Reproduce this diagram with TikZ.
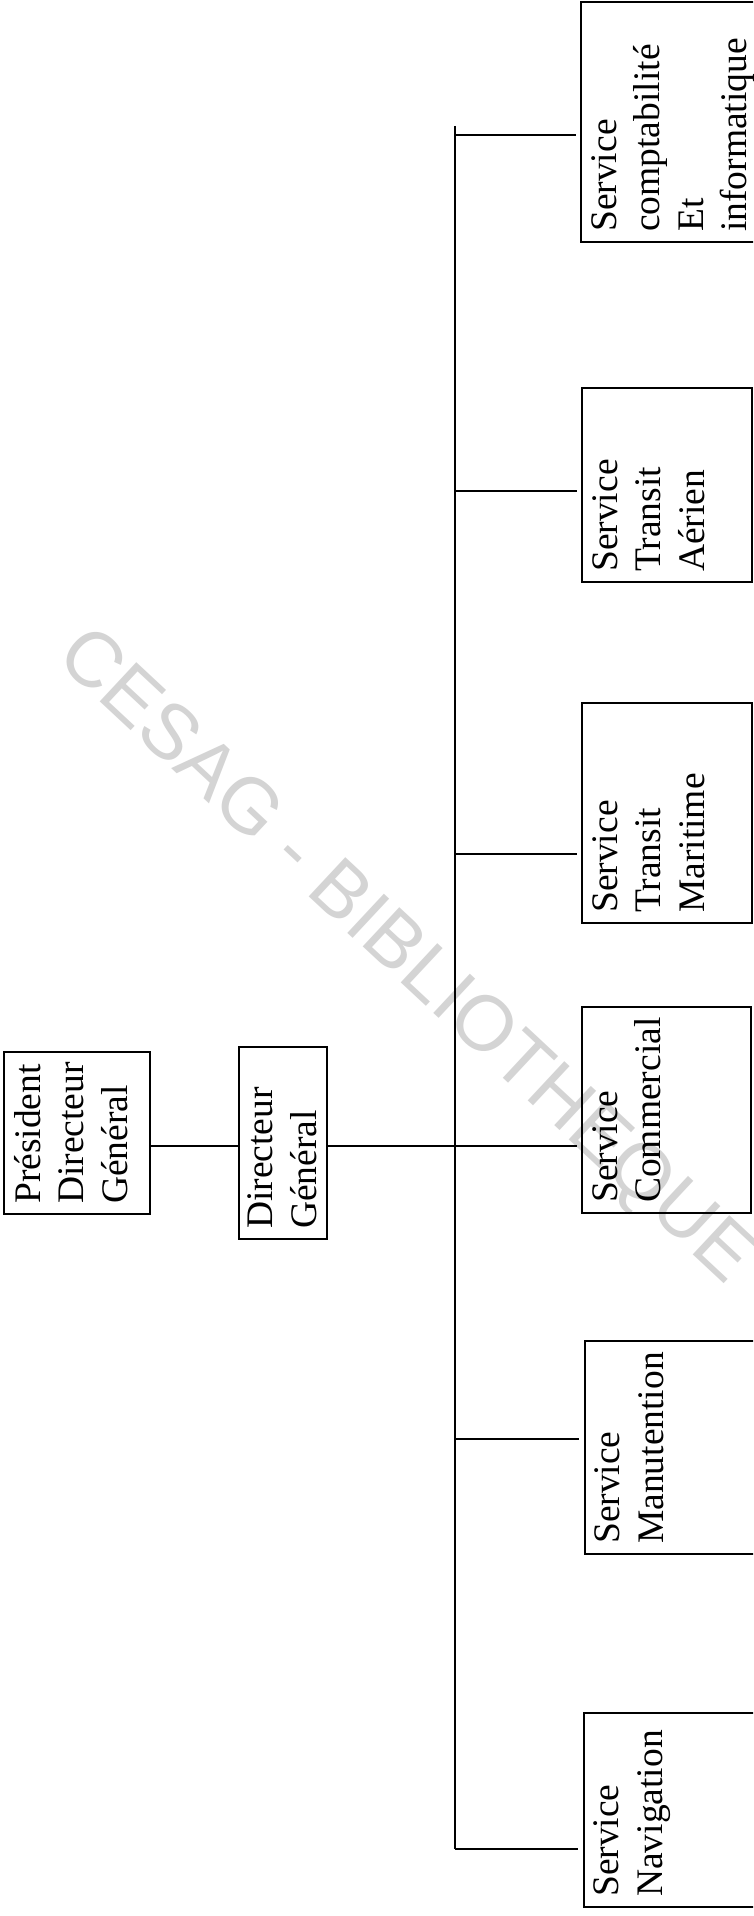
\documentclass[tikz,border=0pt]{standalone}
\usepackage{fontspec}
\setmainfont{Liberation Serif}
\newfontfamily\wmfont{Liberation Sans}
\usetikzlibrary{calc}

\tikzset{
  orgbox/.style={draw=black, line width=1.3pt, rectangle, inner sep=0pt, outer sep=0pt},
  orglbl/.style={rotate=90, anchor=north west, inner sep=0pt, align=left,
                 font=\fontsize{37.5}{43.5}\selectfont},
  link/.style={draw=black, line width=1.3pt},
  watermark/.style={text=black!17, font=\wmfont\fontsize{78}{78}\selectfont}
}

\begin{document}
\begin{tikzpicture}[x=1pt, y=-1pt]
  \useasboundingbox (0,0) rectangle (753,1916);
  \clip (0,0) rectangle (753,1916);
  \fill[white] (0,0) rectangle (753,1916);

  % watermark across the chart
  \node[watermark, rotate=-43] (wm) at (404,958) {CESAG - BIBLIOTHEQUE};

  % head of the organisation
  \node[orgbox, minimum width=146pt, minimum height=162pt] (pdg) at (77,1133) {};
  \node[orglbl] (tpdg) at ($(pdg.south west)+(10,-10)$) {Président\\Directeur\\Général};

  \node[orgbox, minimum width=88pt, minimum height=192pt] (dg) at (283,1143) {};
  \node[orglbl] (tdg) at ($(dg.south west)+(8.5,-10)$) {Directeur\\Général};

  % services
  \node[orgbox, minimum width=179pt, minimum height=240pt] (comp) at (670.5,122) {};
  \node[orglbl] (tcomp) at ($(comp.south west)+(10,-10)$) {Service\\comptabilité\\Et\\informatique};

  \node[orgbox, minimum width=170pt, minimum height=194pt] (aer) at (667,485) {};
  \node[orglbl] (taer) at ($(aer.south west)+(10,-10)$) {Service\\Transit\\Aérien};

  \node[orgbox, minimum width=170pt, minimum height=220pt] (mar) at (667,813) {};
  \node[orglbl] (tmar) at ($(mar.south west)+(10,-10)$) {Service\\Transit\\Maritime};

  \node[orgbox, minimum width=169pt, minimum height=206pt] (com) at (666.5,1110) {};
  \node[orglbl] (tcom) at ($(com.south west)+(10,-10)$) {Service\\Commercial};

  \node[orgbox, minimum width=175pt, minimum height=213pt] (man) at (672.5,1447.5) {};
  \node[orglbl] (tman) at ($(man.south west)+(9.5,-10)$) {Service\\Manutention};

  \node[orgbox, minimum width=176pt, minimum height=194pt] (nav) at (672,1810) {};
  \node[orglbl] (tnav) at ($(nav.south west)+(9.5,-10)$) {Service\\Navigation};

  % vertical spine and branch points
  \coordinate (stop) at (455,126);
  \coordinate (j1) at (455,135);
  \coordinate (j2) at (455,491);
  \coordinate (j3) at (455,854);
  \coordinate (j4) at (455,1146);
  \coordinate (j5) at (455,1439);
  \coordinate (j6) at (455,1849);

  \draw[link] (stop) -- (j6);

  \draw[link, shorten >=5pt] (j1) -- (j1 -| comp.west);
  \draw[link, shorten >=5pt] (j2) -- (j2 -| aer.west);
  \draw[link, shorten >=5pt] (j3) -- (j3 -| mar.west);
  \draw[link, shorten >=5pt] (j4) -- (j4 -| com.west);
  \draw[link, shorten >=6pt] (j5) -- (j5 -| man.west);
  \draw[link, shorten >=6pt] (j6) -- (j6 -| nav.west);

  % head links
  \draw[link] (pdg.east |- j4) -- (dg.west |- j4);
  \draw[link] (dg.east |- j4) -- (j4);
\end{tikzpicture}
\end{document}
